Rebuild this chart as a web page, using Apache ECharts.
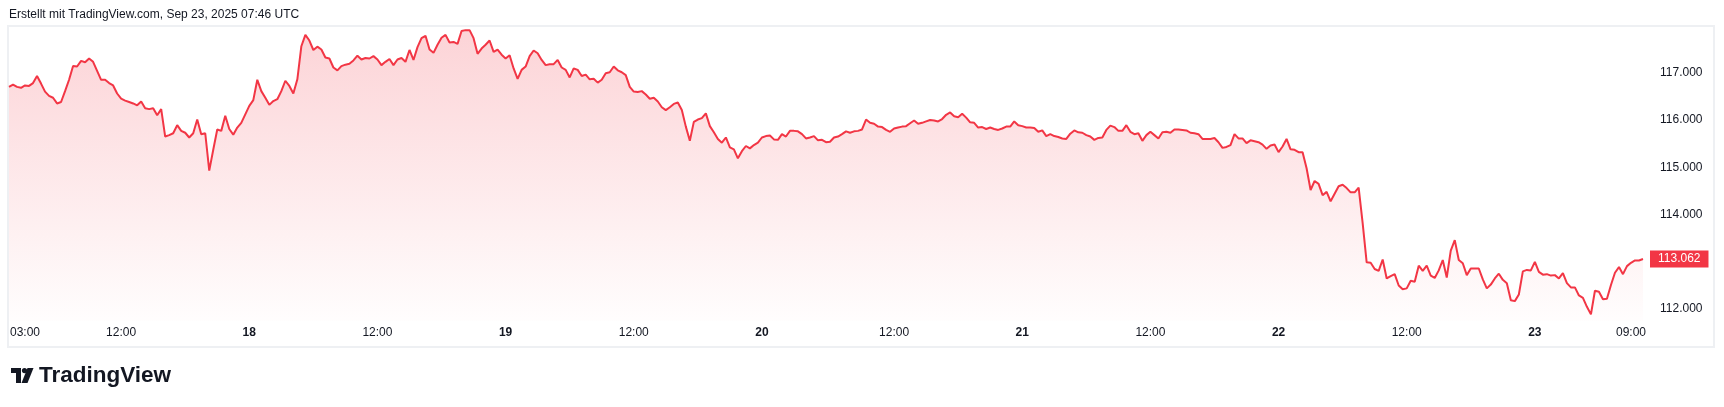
<!DOCTYPE html>
<html><head><meta charset="utf-8">
<script src="https://cdn.jsdelivr.net/npm/echarts@6/dist/echarts.min.js"></script>
<style>html,body{margin:0;padding:0;background:#fff;}#c{width:1724px;height:407px;}</style>
</head><body><div id="c"></div>
<script>
const title = 'Erstellt mit TradingView.com, Sep 23, 2025 07:46 UTC';
const brand = 'TradingView';
const prices = [
116.70,116.75,116.70,116.68,116.73,116.72,116.78,116.93,116.77,116.60,
116.51,116.47,116.35,116.38,116.61,116.85,117.14,117.13,117.25,117.22,
117.30,117.23,117.04,116.85,116.85,116.78,116.73,116.56,116.45,116.41,
116.38,116.35,116.31,116.39,116.25,116.23,116.25,116.10,116.23,115.65,
115.68,115.72,115.89,115.77,115.73,115.63,115.72,116.01,115.70,115.72,
114.93,115.37,115.80,115.77,116.09,115.81,115.69,115.84,115.94,116.12,
116.30,116.42,116.85,116.61,116.47,116.32,116.40,116.44,116.61,116.83,
116.72,116.56,116.86,117.56,117.80,117.68,117.48,117.55,117.49,117.32,
117.30,117.11,117.05,117.14,117.17,117.19,117.26,117.36,117.28,117.31,
117.30,117.35,117.28,117.16,117.23,117.29,117.16,117.28,117.31,117.23,
117.48,117.27,117.54,117.73,117.78,117.49,117.42,117.59,117.74,117.80,
117.64,117.65,117.61,117.88,117.90,117.90,117.73,117.40,117.51,117.59,
117.68,117.44,117.49,117.38,117.30,117.37,117.09,116.87,117.06,117.13,
117.35,117.47,117.41,117.27,117.16,117.18,117.18,117.27,117.11,117.06,
116.90,117.09,117.06,116.93,116.96,116.86,116.87,116.79,116.85,116.99,
117.01,117.13,117.05,117.01,116.95,116.70,116.60,116.59,116.61,116.54,
116.45,116.47,116.39,116.27,116.21,116.27,116.34,116.37,116.21,115.86,
115.56,115.96,116.01,116.04,116.14,115.87,115.74,115.60,115.52,115.63,
115.42,115.38,115.19,115.34,115.45,115.40,115.47,115.52,115.63,115.66,
115.67,115.59,115.58,115.70,115.65,115.77,115.77,115.76,115.70,115.61,
115.63,115.66,115.57,115.58,115.53,115.54,115.63,115.65,115.70,115.76,
115.73,115.76,115.77,115.80,116.01,115.94,115.92,115.86,115.85,115.79,
115.75,115.82,115.84,115.86,115.87,115.93,115.99,115.92,115.94,115.97,
116.00,115.99,115.97,116.02,116.11,116.16,116.08,116.06,116.13,116.05,
115.95,115.94,115.84,115.85,115.81,115.84,115.81,115.79,115.82,115.86,
115.86,115.97,115.89,115.87,115.84,115.84,115.83,115.75,115.78,115.66,
115.70,115.66,115.64,115.61,115.60,115.71,115.78,115.74,115.73,115.68,
115.65,115.58,115.62,115.63,115.79,115.88,115.85,115.77,115.77,115.89,
115.75,115.70,115.72,115.56,115.68,115.75,115.68,115.61,115.74,115.75,
115.73,115.80,115.80,115.79,115.78,115.73,115.72,115.70,115.60,115.60,
115.60,115.62,115.53,115.41,115.43,115.47,115.70,115.61,115.61,115.51,
115.57,115.55,115.53,115.48,115.39,115.46,115.48,115.32,115.44,115.60,
115.38,115.37,115.32,115.32,114.98,114.52,114.71,114.65,114.41,114.48,
114.28,114.44,114.60,114.63,114.56,114.47,114.47,114.57,113.82,112.99,
112.98,112.85,112.81,113.05,112.65,112.70,112.74,112.50,112.42,112.44,
112.60,112.58,112.92,112.81,112.92,112.71,112.66,112.82,113.04,112.67,
113.24,113.46,113.04,112.97,112.72,112.86,112.86,112.86,112.63,112.44,
112.52,112.65,112.75,112.62,112.55,112.19,112.17,112.31,112.80,112.83,
112.82,113.00,112.79,112.73,112.74,112.71,112.72,112.65,112.76,112.55,
112.46,112.46,112.29,112.24,112.05,111.89,112.39,112.37,112.21,112.22,
112.51,112.77,112.89,112.74,112.91,112.98,113.03,113.03,113.06
];
const categories = prices.map((_, i) => String(i));
const tickIdx  = [4, 28, 60, 92, 124, 156, 188, 221, 253, 285, 317, 349, 381, 405];
const tickText = ['03:00','12:00','18','12:00','19','12:00','20','12:00','21','12:00','22','12:00','23','09:00'];
const dayLabels = ['18','19','20','21','22','23'];
const priceTicks = [112, 114, 115, 116, 117];
const lastPrice = 113.062;

const FONT = '"Liberation Sans", Arial, sans-serif';
const RED = '#F23645';
const chart = echarts.init(document.getElementById('c'), null, {renderer: 'canvas'});
chart.setOption({
  animation: false,
  backgroundColor: '#ffffff',
  grid: {left: 9, right: 81, top: 25.4, bottom: 86, containLabel: false},
  xAxis: {
    type: 'category', data: categories, boundaryGap: false,
    axisLine: {show: false}, axisTick: {show: false}, splitLine: {show: false},
    axisLabel: {
      interval: (i) => tickIdx.indexOf(i) >= 0,
      margin: 6, fontSize: 12, color: '#131722', fontFamily: FONT,
      formatter: (v, i) => {
        const k = tickIdx.indexOf(i);
        if (k < 0) return '';
        const t = tickText[k];
        return dayLabels.indexOf(t) >= 0 ? '{d|' + t + '}' : t;
      },
      rich: {d: {fontWeight: 'bold', fontSize: 12, color: '#131722', fontFamily: FONT}}
    }
  },
  yAxis: {
    type: 'value', position: 'right', min: 111.75, max: 118, interval: 0.25,
    axisLine: {show: false}, axisTick: {show: false}, splitLine: {show: false},
    axisLabel: {
      margin: 17, fontSize: 12, color: '#131722', fontFamily: FONT,
      formatter: (v) => priceTicks.some(p => Math.abs(p - v) < 1e-6) ? v.toFixed(3) : ''
    }
  },
  series: [{
    type: 'line', data: prices, showSymbol: false, symbol: 'none',
    lineStyle: {color: RED, width: 2},
    itemStyle: {color: RED},
    areaStyle: {
      color: new echarts.graphic.LinearGradient(0, 0, 0, 1, [
        {offset: 0, color: 'rgba(242,54,69,0.31)'},
        {offset: 1, color: 'rgba(242,54,69,0.01)'}
      ])
    },
    markLine: {
      symbol: 'none', silent: true, animation: false,
      lineStyle: {color: 'rgba(255,255,255,0)', width: 1, type: 'solid'},
      label: {
        show: true, position: 'end', distance: 7,
        formatter: () => lastPrice.toFixed(3),
        backgroundColor: RED, color: '#ffffff', opacity: 1,
        padding: [2, 8], fontSize: 12, lineHeight: 13, fontFamily: FONT
      },
      data: [{yAxis: lastPrice}]
    }
  }],
  graphic: [
    {type: 'rect', shape: {x: 8, y: 26, width: 1706, height: 321},
     style: {fill: 'none', stroke: '#eef0f3', lineWidth: 2}, z: -1, silent: true},
    {type: 'text', x: 9, y: 15,
     style: {text: title, font: '12px ' + FONT, fill: '#131722', verticalAlign: 'middle'}},
    {type: 'polygon', shape: {points: [[11,368],[21,368],[21,383],[16,383],[16,373],[11,373]]},
     style: {fill: '#131722'}},
    {type: 'circle', shape: {cx: 24.5, cy: 370.6, r: 2.6}, style: {fill: '#131722'}},
    {type: 'polygon', shape: {points: [[27.5,368],[33.5,368],[27.5,383],[21.5,383]]},
     style: {fill: '#131722'}},
    {type: 'text', x: 39, y: 376,
     style: {text: brand, font: 'bold 22.5px ' + FONT, fill: '#131722', verticalAlign: 'middle'}}
  ]
});
</script>
</body></html>
